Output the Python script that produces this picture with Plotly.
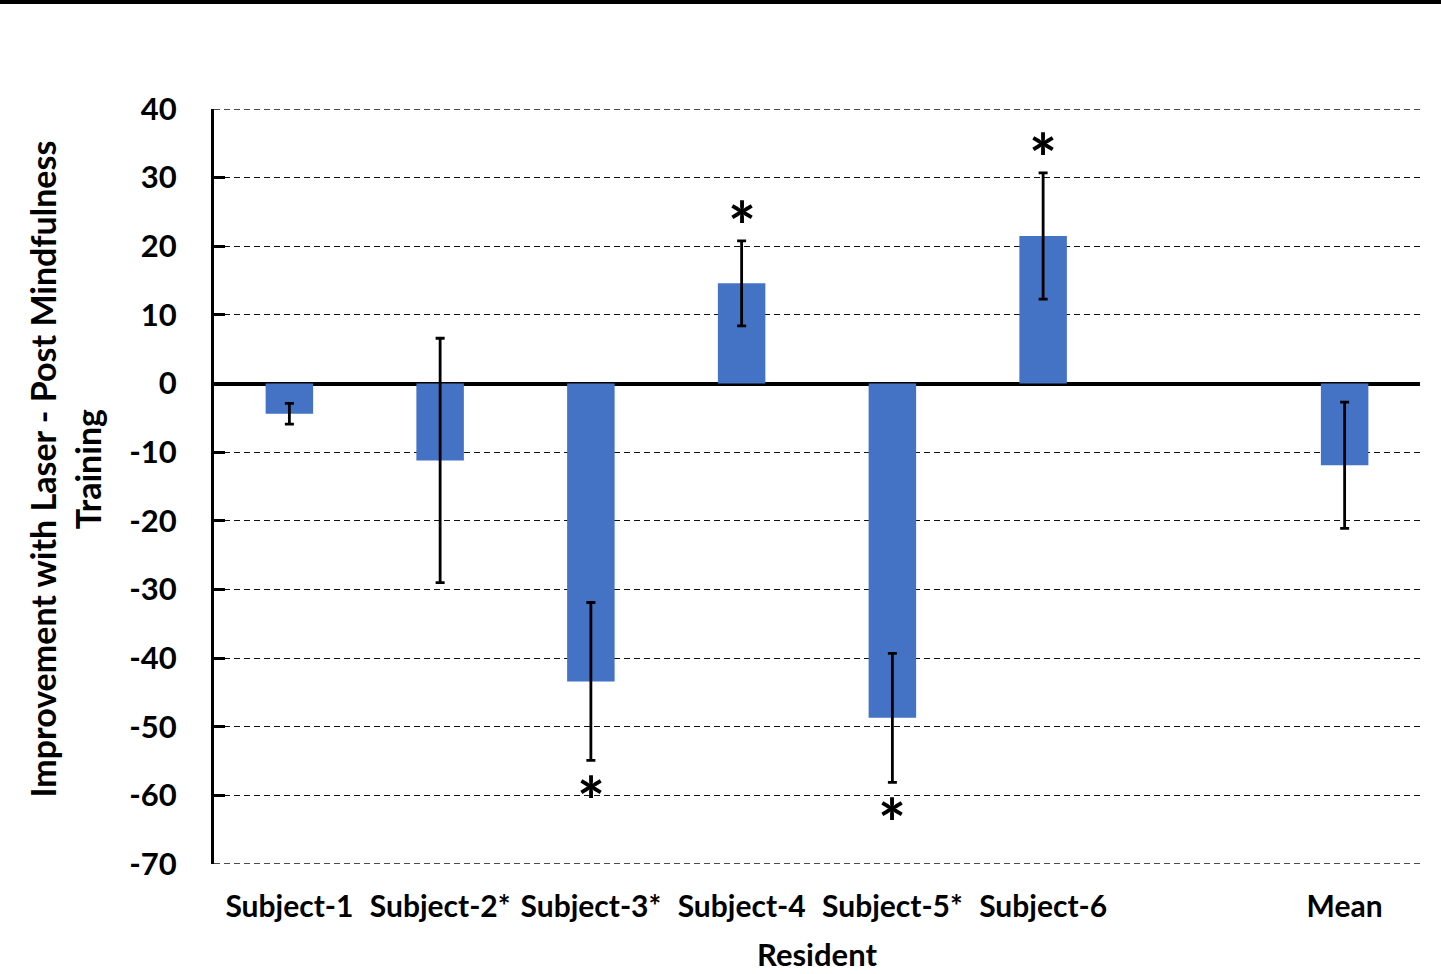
import plotly.graph_objects as go

categories = ["Subject-1", "Subject-2*", "Subject-3*", "Subject-4", "Subject-5*", "Subject-6", "Mean"]
axis_order = ["Subject-1", "Subject-2*", "Subject-3*", "Subject-4", "Subject-5*", "Subject-6", " ", "Mean"]
values = [-4.4, -11.2, -43.4, 14.6, -48.7, 21.5, -11.9]
errors = [1.5, 17.8, 11.5, 6.2, 9.4, 9.2, 9.2]
# significance marker: +1 above the bar, -1 below, 0 none
significance = [0, 0, -1, 1, -1, 1, 0]
y_ticks = list(range(-70, 41, 10))
y_min, y_max = -70, 40

FONT = "Lato"
BAR_COLOR = "#4472C4"
GRID = dict(color="#111111", width=1.4, dash="6px,4px")

fig = go.Figure()
fig.add_trace(go.Bar(
    x=categories, y=values, width=0.315,
    marker=dict(color=BAR_COLOR, line=dict(width=0)),
    error_y=dict(type="data", array=errors, visible=True,
                 color="black", thickness=2.8, width=4.5),
    showlegend=False,
))

for cat, v, e, s in zip(categories, values, errors, significance):
    if s == 0:
        continue
    if s > 0:
        fig.add_annotation(x=cat, y=v + e, text="*", showarrow=False,
                           yanchor="middle", yshift=15,
                           font=dict(family=FONT, size=66, color="black", weight="bold"))
    else:
        fig.add_annotation(x=cat, y=v - e, text="*", showarrow=False,
                           yanchor="middle", yshift=-40,
                           font=dict(family=FONT, size=66, color="black", weight="bold"))

fig.add_annotation(xref="paper", yref="paper", x=-0.124, y=0.523,
                   text="Improvement with Laser - Post Mindfulness<br>Training",
                   textangle=-90, showarrow=False, xanchor="center", yanchor="middle",
                   font=dict(family=FONT, size=34, color="black", weight="bold"))

# gridlines at the range ends (plotly omits them)
for yv in (y_min, y_max):
    fig.add_shape(type="line", xref="paper", yref="y", x0=0, x1=1, y0=yv, y1=yv,
                  line=GRID, layer="below")

# black rule across the top of the picture
fig.add_shape(type="line", xref="paper", yref="paper",
              x0=-0.3, x1=1.1, y0=(864 - 2) / 755, y1=(864 - 2) / 755,
              line=dict(color="black", width=4))

fig.update_layout(
    width=1441, height=974,
    margin=dict(l=214, r=21, t=109, b=110, autoexpand=False),
    paper_bgcolor="white", plot_bgcolor="white",
    bargap=0.685,
    font=dict(family=FONT, color="black"),
    xaxis=dict(
        type="category", categoryorder="array", categoryarray=axis_order,
        showgrid=False, showline=False, ticks="", zeroline=False, automargin=False,
        tickfont=dict(family=FONT, size=30, color="black", weight="bold"),
        ticklabelstandoff=22,
        title=dict(text="Resident", standoff=22,
                   font=dict(family=FONT, size=31, color="black", weight="bold")),
    ),
    yaxis=dict(
        range=[y_min, y_max], tickvals=y_ticks, ticktext=[str(t) for t in y_ticks],
        showline=True, linecolor="black", linewidth=3, automargin=False,
        ticks="inside", ticklen=11, tickwidth=3, tickcolor="black",
        showgrid=True, gridcolor=GRID["color"], gridwidth=GRID["width"], griddash=GRID["dash"],
        zeroline=True, zerolinecolor="black", zerolinewidth=3.5,
        tickfont=dict(family=FONT, size=31, color="black", weight="bold"),
        ticklabelstandoff=28,
    ),
)

fig.write_html("out.html", config={"displayModeBar": False},
               post_script="document.body.style.margin='0px';")
